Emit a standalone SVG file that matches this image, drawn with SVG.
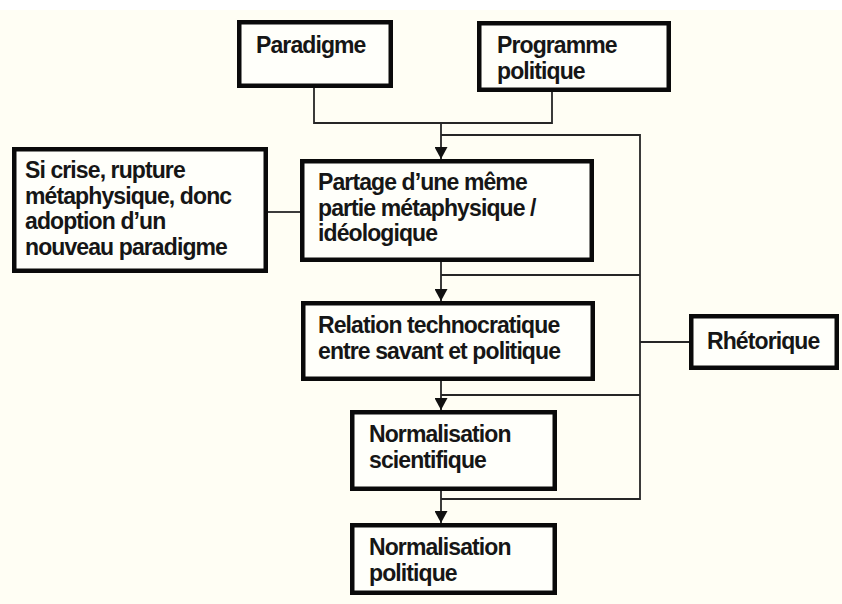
<svg xmlns="http://www.w3.org/2000/svg" width="842" height="604" viewBox="0 0 842 604">
  <defs>
    <style>
      .box { fill: #fffffa; stroke: #0a0a0a; stroke-width: 4.5; }
      .lbl { font-family: "Liberation Sans", Arial, sans-serif; font-weight: bold; font-size: 23px; letter-spacing: -0.9px; fill: #161616; }
      .wire { fill: none; stroke: #262626; stroke-width: 1.8; }
    </style>
    <marker id="arrow" markerUnits="userSpaceOnUse" markerWidth="14" markerHeight="13" refX="12" refY="6.5" orient="auto">
      <path d="M0,0 L12,6.5 L0,13 Z" fill="#111"/>
    </marker>
  </defs>

  <!-- page -->
  <rect x="0" y="0" width="842" height="604" fill="#ffffff"/>
  <rect x="0" y="10" width="842" height="594" fill="#fffef4"/>

  <!-- connectors -->
  <g id="connectors">
    <!-- sources joined into the main spine -->
    <path class="wire" d="M314,88 V123 H552 V92"/>
    <path class="wire" d="M441,123 V159" marker-end="url(#arrow)"/>
    <!-- rhetoric bus on the right -->
    <path class="wire" d="M441,135 H640 V499 H441"/>
    <path class="wire" d="M441,275 H640"/>
    <path class="wire" d="M441,395 H640"/>
    <path class="wire" d="M640,342 H689"/>
    <!-- crisis branch -->
    <path class="wire" d="M268,212 H300"/>
    <!-- spine steps -->
    <path class="wire" d="M441,262 V301" marker-end="url(#arrow)"/>
    <path class="wire" d="M441,381 V410" marker-end="url(#arrow)"/>
    <path class="wire" d="M441,491 V523" marker-end="url(#arrow)"/>
  </g>

  <g id="paradigme">
    <rect class="box" x="239.25" y="22.25" width="151.5" height="63.5"/>
    <text class="lbl" x="256" y="53">Paradigme</text>
  </g>

  <g id="programme">
    <rect class="box" x="479.25" y="23.25" width="189.5" height="66.5"/>
    <text class="lbl" x="497" y="53">Programme</text>
    <text class="lbl" x="497" y="79">politique</text>
  </g>

  <g id="crise">
    <rect class="box" x="14.25" y="149.25" width="251.5" height="121.5"/>
    <text class="lbl" x="25" y="178">Si crise, rupture</text>
    <text class="lbl" x="25" y="203.5">métaphysique, donc</text>
    <text class="lbl" x="25" y="229">adoption d’un</text>
    <text class="lbl" x="25" y="254.5">nouveau paradigme</text>
  </g>

  <g id="partage">
    <rect class="box" x="302.25" y="161.25" width="289.5" height="98.5"/>
    <text class="lbl" x="318" y="190">Partage d’une même</text>
    <text class="lbl" x="318" y="215.5">partie métaphysique /</text>
    <text class="lbl" x="318" y="241">idéologique</text>
  </g>

  <g id="relation">
    <rect class="box" x="303.25" y="303.25" width="289.5" height="75.5"/>
    <text class="lbl" x="318" y="333">Relation technocratique</text>
    <text class="lbl" x="318" y="359">entre savant et politique</text>
  </g>

  <g id="rhetorique">
    <rect class="box" x="691.25" y="316.25" width="145.5" height="51.5"/>
    <text class="lbl" x="707" y="349">Rhétorique</text>
  </g>

  <g id="normalisation-scientifique">
    <rect class="box" x="352.25" y="412.25" width="202.5" height="76.5"/>
    <text class="lbl" x="369" y="442">Normalisation</text>
    <text class="lbl" x="369" y="468">scientifique</text>
  </g>

  <g id="normalisation-politique">
    <rect class="box" x="352.25" y="525.25" width="202.5" height="67.5"/>
    <text class="lbl" x="369" y="555">Normalisation</text>
    <text class="lbl" x="369" y="581">politique</text>
  </g>
</svg>
